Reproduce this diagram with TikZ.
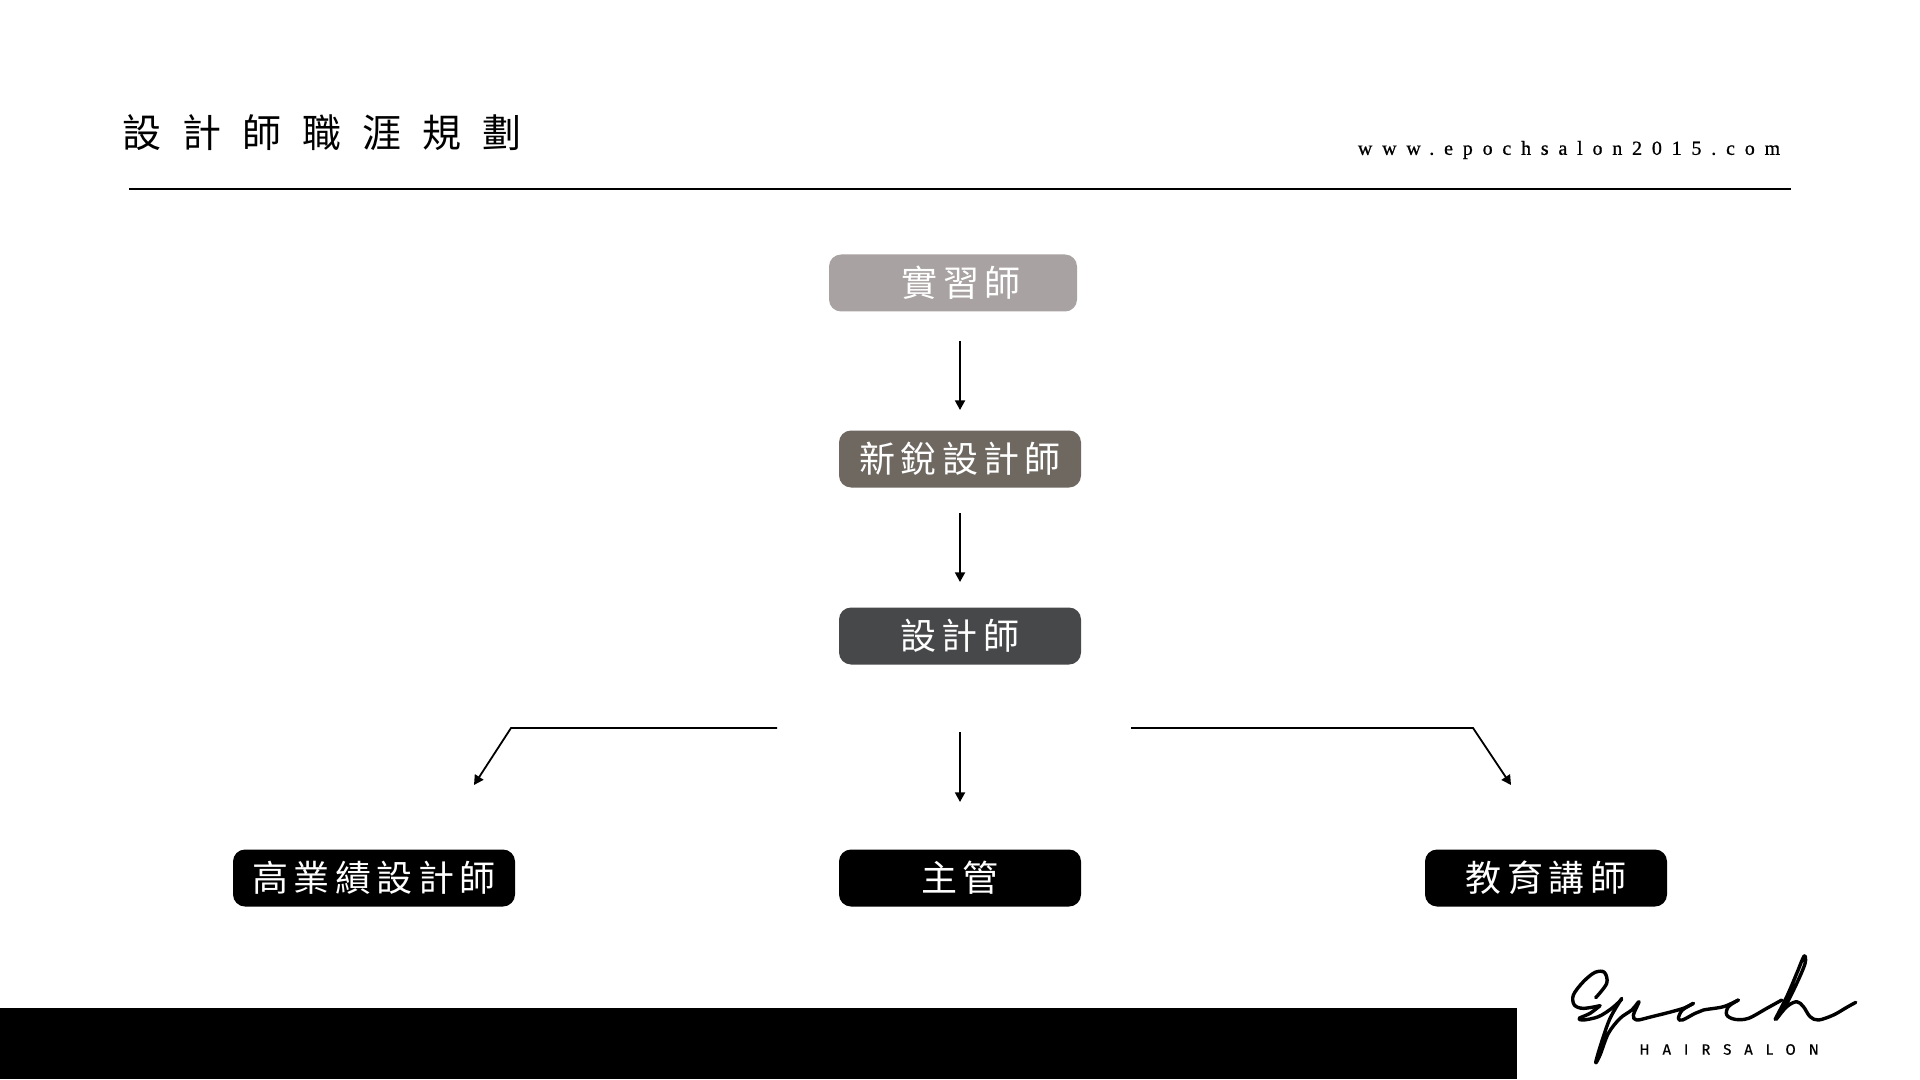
\documentclass[tikz,border=0pt]{standalone}
\usepackage{fontspec}
\usetikzlibrary{arrows.meta}
\newfontfamily\cjkfont{Noto Sans CJK TC}
\newfontfamily\titlefont[LetterSpace=54]{Noto Sans CJK TC}
\newfontfamily\boxfont[LetterSpace=15]{Noto Sans CJK TC}
\newfontfamily\urlfont[LetterSpace=49,FakeBold=0.8]{Liberation Serif}
\newfontfamily\logofont[LetterSpace=86,FakeBold=0.3]{Fira Sans}
\definecolor{cintern}{HTML}{A8A2A2}
\definecolor{cnew}{HTML}{6E6861}
\definecolor{cdesign}{HTML}{47484A}
\tikzset{
  box/.style={rounded corners=6pt,inner sep=0pt,text=white,font=\boxfont\fontsize{18pt}{20pt}\selectfont,minimum height=28.5pt,anchor=center},
  conn/.style={line width=0.9pt,black,-{Triangle[length=4.8pt,width=5pt]}},
  rule/.style={line width=1pt,black},
  sig/.style={line width=1.7pt,black,line cap=round,line join=round}
}
\begin{document}
\begin{tikzpicture}[x=0.5pt,y=-0.5pt]
\useasboundingbox (0,0) rectangle (1920,1080);
\fill[white] (0,0) rectangle (1920,1080);
% header
\node[anchor=west,inner sep=0pt,font=\titlefont\fontsize{19.5pt}{22pt}\selectfont] (title) at (122,133) {設計師職涯規劃};
\node[anchor=west,inner sep=0pt,font=\urlfont\fontsize{10pt}{12pt}\selectfont] (url) at (1357.5,150) {www.epochsalon2015.com};
\coordinate (ruleL) at (129,189);
\coordinate (ruleR) at (1791,189);
\draw[rule] (ruleL) -- (ruleR);
% boxes
\node[box,fill=cintern,minimum width=124pt] (intern) at (953,283) {\hspace{8pt}\raisebox{-1.6pt}{實習師}};
\node[box,fill=cnew,minimum width=121pt] (fresh) at (960,459) {\raisebox{-1.6pt}{新銳設計師}};
\node[box,fill=cdesign,minimum width=121pt] (design) at (960,636) {\raisebox{-1.6pt}{設計師}};
\node[box,fill=black,minimum width=141pt] (top) at (374,878) {\raisebox{-1.6pt}{高業績設計師}};
\node[box,fill=black,minimum width=121pt] (lead) at (960,878) {\raisebox{-1.6pt}{主管}};
\node[box,fill=black,minimum width=121pt] (edu) at (1546,878) {\raisebox{-1.6pt}{教育講師}};
% connectors
\coordinate (a1s) at (960,341); \coordinate (a1e) at (960,410);
\coordinate (a2s) at (960,513); \coordinate (a2e) at (960,582);
\coordinate (a3s) at (960,732); \coordinate (a3e) at (960,802);
\coordinate (ls) at (777,728); \coordinate (lb) at (511,728); \coordinate (le) at (474,785);
\coordinate (rs) at (1131,728); \coordinate (rb) at (1473,728); \coordinate (re) at (1511,785);
\draw[conn] (a1s) -- (a1e);
\draw[conn] (a2s) -- (a2e);
\draw[conn] (a3s) -- (a3e);
\draw[conn] (ls) -- (lb) -- (le);
\draw[conn] (rs) -- (rb) -- (re);
% footer bar
\fill[black] (0,1008) rectangle (1517,1079);
% logo
\begin{scope}[shift={(1500,930)},x=0.1667pt,y=-0.1667pt]
\draw[sig] plot[smooth,tension=0.55] coordinates {(287,203) (320,160) (313,127) (285,127) (250,155) (220,195) (223,225) (250,235) (300,227)};
\draw[sig] plot[smooth,tension=0.55] coordinates {(300,227) (270,250) (237,265) (250,270) (295,260) (335,235) (365,208)};
\draw[sig] plot[smooth,tension=0.55] coordinates {(365,205) (330,265) (305,335) (287,397) (300,375) (325,310) (360,265) (395,240) (417,215) (400,255) (410,270) (455,260) (515,245) (555,233) (580,220)};
\draw[sig] plot[smooth,tension=0.55] coordinates {(580,220) (547,240) (535,265) (547,270) (585,250) (610,240) (670,230) (715,210)};
\draw[sig] plot[smooth,tension=0.55] coordinates {(715,210) (685,230) (680,255) (705,268) (745,265) (800,235) (845,210)};
\draw[sig] plot[smooth,tension=0.55] coordinates {(825,268) (860,200) (890,130) (912,78) (915,100) (890,160) (855,230) (828,268) (860,230) (890,215) (910,230) (930,260) (955,270) (1000,255) (1040,232) (1067,217)};
\end{scope}
\node[anchor=west,inner sep=0pt,font=\logofont\fontsize{7.5pt}{9pt}\selectfont] (brand) at (1639,1049.5) {HAIRSALON};
\end{tikzpicture}
\end{document}
